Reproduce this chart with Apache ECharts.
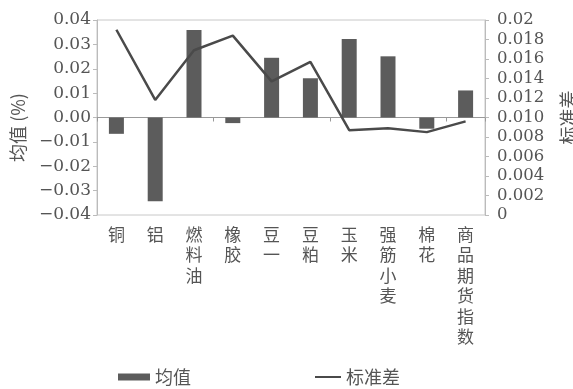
<!DOCTYPE html>
<html>
<head>
    <meta charset="utf-8">
    <title>均值与标准差</title>
    <script src="https://cdn.jsdelivr.net/npm/echarts@6/dist/echarts.min.js"></script>
    <style>
        html, body { margin: 0; padding: 0; background: #fff; }
        #main { width: 573px; height: 389px; }
    </style>
</head>
<body>
<div id="main"></div>
<script type="text/javascript">
    // 品种
    var categories = ['铜', '铝', '燃料油', '橡胶', '豆一', '豆粕', '玉米', '强筋小麦', '棉花', '商品期货指数'];
    // 均值 (%)
    var meanValues = [-0.0067, -0.0344, 0.0359, -0.0023, 0.0245, 0.0161, 0.0322, 0.0251, -0.0046, 0.0111];
    // 标准差
    var stdValues = [0.0190, 0.0118, 0.0169, 0.0184, 0.0137, 0.0157, 0.0087, 0.0089, 0.0085, 0.0096];

    var textColor = '#555';
    var serif = 'DejaVu Serif';
    var cjk = 'Noto Sans CJK SC';

    var myChart = echarts.init(document.getElementById('main'));

    // 竖排文字：每个字一行
    function vertical(s) {
        return s.split('').join('\n');
    }

    var option = {
        animation: false,
        backgroundColor: '#fff',
        grid: {
            left: 97, right: 88, top: 20, bottom: 174,
            outerBoundsMode: 'none',
            show: true, borderColor: '#c8c8c8', borderWidth: 1
        },
        legend: [
            {
                data: ['均值'],
                left: 113, top: 363,
                itemWidth: 32, itemHeight: 7,
                icon: 'rect',
                textStyle: { fontFamily: cjk, fontSize: 18, color: textColor }
            },
            {
                data: ['标准差'],
                left: 310, top: 363,
                itemWidth: 26, itemHeight: 2,
                icon: 'rect',
                textStyle: { fontFamily: cjk, fontSize: 18, color: textColor }
            }
        ],
        xAxis: [
            {
                type: 'category',
                data: categories,
                position: 'bottom',
                axisLine: { show: false, onZero: false },
                axisTick: { show: false },
                axisLabel: {
                    margin: 9,
                    interval: 0,
                    verticalAlign: 'top',
                    fontFamily: cjk,
                    fontSize: 17,
                    lineHeight: 20.5,
                    color: textColor,
                    formatter: function (v) { return vertical(v); }
                }
            },
            {
                type: 'category',
                data: categories,
                position: 'bottom',
                axisLine: { show: true, onZero: true, lineStyle: { color: '#999', width: 1 } },
                axisTick: { show: true, length: 4, lineStyle: { color: '#999' } },
                axisLabel: { show: false }
            }
        ],
        yAxis: [
            {
                type: 'value',
                min: -0.04, max: 0.04, interval: 0.01,
                name: '均值 (%)',
                nameLocation: 'middle',
                nameRotate: 90,
                nameGap: 70,
                nameTextStyle: { fontFamily: cjk, fontSize: 18, color: textColor, padding: [0, 20, 0, 0] },
                axisLine: { show: true, lineStyle: { color: '#bbb' } },
                axisTick: { show: true, length: 4, lineStyle: { color: '#bbb' } },
                splitLine: { show: false },
                axisLabel: {
                    margin: 6,
                    showMinLabel: true, showMaxLabel: true, hideOverlap: false,
                    fontFamily: serif, fontSize: 17, lineHeight: 16, color: textColor,
                    formatter: function (v) {
                        var s = Math.abs(v).toFixed(2);
                        return v < -1e-9 ? '\u2212' + s : s;
                    }
                }
            },
            {
                type: 'value',
                min: 0, max: 0.02, interval: 0.002,
                name: '标准差',
                nameLocation: 'middle',
                nameRotate: 90,
                nameGap: 74,
                nameTextStyle: { fontFamily: cjk, fontSize: 18, color: textColor },
                axisLine: { show: true, lineStyle: { color: '#bbb' } },
                axisTick: { show: true, length: 4, lineStyle: { color: '#bbb' } },
                splitLine: { show: false },
                axisLabel: {
                    margin: 12,
                    showMinLabel: true, showMaxLabel: true, hideOverlap: false,
                    fontFamily: serif, fontSize: 16.5, lineHeight: 16, color: textColor,
                    formatter: function (v) {
                        if (Math.abs(v) < 1e-9) return '0';
                        if (Math.abs(v - 0.02) < 1e-9) return '0.02';
                        return v.toFixed(3);
                    }
                }
            }
        ],
        series: [
            {
                name: '均值',
                type: 'bar',
                xAxisIndex: 0,
                yAxisIndex: 0,
                data: meanValues,
                barWidth: 15,
                itemStyle: { color: '#5c5c5c' }
            },
            {
                name: '标准差',
                type: 'line',
                xAxisIndex: 0,
                yAxisIndex: 1,
                data: stdValues,
                symbol: 'none',
                lineStyle: { color: '#4a4a4a', width: 2.5 },
                itemStyle: { color: '#4a4a4a' }
            }
        ]
    };

    myChart.setOption(option);
</script>
</body>
</html>
